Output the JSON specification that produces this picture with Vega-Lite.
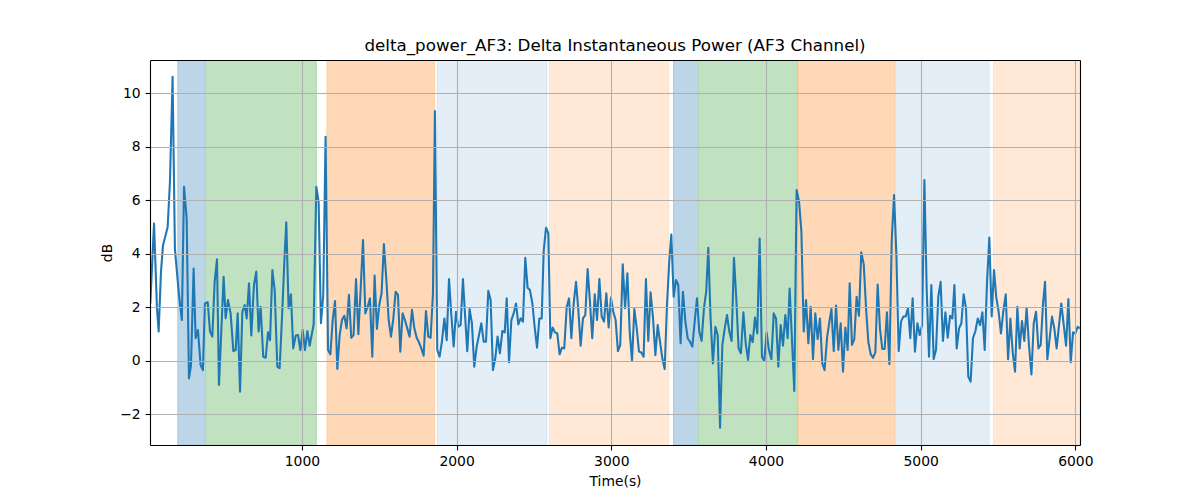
{
"$schema": "https://vega.github.io/schema/vega-lite/v6.json",
"width": 930,
"height": 385,
"autosize": {"type": "none"},
"padding": {"left": 150, "top": 60, "right": 120, "bottom": 55},
"title": {"text": "delta_power_AF3: Delta Instantaneous Power (AF3 Channel)", "font": "DejaVu Sans", "fontSize": 16.7, "fontWeight": "normal", "color": "#000000", "frame": "group", "anchor": "middle", "baseline": "alphabetic", "offset": 8.3, "dy": 16},
"datasets": {
"spans": [
{"start": 198, "end": 376, "phase": "A"},
{"start": 376, "end": 1093, "phase": "B"},
{"start": 1162, "end": 1858, "phase": "C"},
{"start": 1875, "end": 2584, "phase": "D"},
{"start": 2601, "end": 3371, "phase": "E"},
{"start": 3403, "end": 3565, "phase": "A"},
{"start": 3565, "end": 4203, "phase": "B"},
{"start": 4211, "end": 4832, "phase": "C"},
{"start": 4838, "end": 5442, "phase": "D"},
{"start": 5470, "end": 6030, "phase": "E"}
],
"signal": [
{"time":20,"power":2.15},{"time":44,"power":5.14},{"time":63,"power":1.97},{"time":74,"power":1.10},{"time":89,"power":3.33},{"time":102,"power":4.33},{"time":132,"power":5.00},{"time":147,"power":6.69},{"time":164,"power":10.62},{"time":179,"power":4.20},{"time":205,"power":2.47},{"time":224,"power":1.53},{"time":238,"power":6.51},{"time":255,"power":5.33},{"time":270,"power":-0.65},{"time":283,"power":-0.15},{"time":300,"power":3.46},{"time":313,"power":0.85},{"time":328,"power":1.16},{"time":345,"power":-0.15},{"time":360,"power":-0.34},{"time":373,"power":2.15},{"time":391,"power":2.20},{"time":406,"power":1.10},{"time":421,"power":0.91},{"time":436,"power":2.96},{"time":451,"power":3.80},{"time":464,"power":-0.90},{"time":494,"power":3.15},{"time":507,"power":1.60},{"time":522,"power":2.28},{"time":539,"power":1.78},{"time":557,"power":0.37},{"time":572,"power":0.41},{"time":585,"power":1.78},{"time":600,"power":-1.15},{"time":615,"power":1.84},{"time":630,"power":2.09},{"time":643,"power":1.59},{"time":658,"power":2.90},{"time":673,"power":0.95},{"time":690,"power":2.84},{"time":705,"power":3.34},{"time":720,"power":1.10},{"time":733,"power":2.03},{"time":750,"power":0.16},{"time":766,"power":0.12},{"time":781,"power":1.07},{"time":794,"power":0.78},{"time":809,"power":3.40},{"time":824,"power":2.65},{"time":841,"power":-0.21},{"time":856,"power":-0.27},{"time":873,"power":1.84},{"time":886,"power":3.65},{"time":899,"power":5.18},{"time":914,"power":1.97},{"time":929,"power":2.49},{"time":944,"power":0.47},{"time":960,"power":0.95},{"time":975,"power":0.97},{"time":990,"power":0.41},{"time":1005,"power":1.16},{"time":1020,"power":0.41},{"time":1035,"power":1.12},{"time":1050,"power":0.57},{"time":1063,"power":0.97},{"time":1076,"power":1.37},{"time":1093,"power":6.51},{"time":1108,"power":5.95},{"time":1123,"power":1.41},{"time":1138,"power":2.47},{"time":1153,"power":8.38},{"time":1169,"power":0.41},{"time":1184,"power":0.25},{"time":1199,"power":1.53},{"time":1214,"power":2.24},{"time":1229,"power":-0.30},{"time":1244,"power":0.97},{"time":1259,"power":1.53},{"time":1274,"power":1.69},{"time":1289,"power":1.22},{"time":1304,"power":2.47},{"time":1319,"power":0.87},{"time":1334,"power":0.97},{"time":1350,"power":3.06},{"time":1365,"power":1.00},{"time":1380,"power":2.71},{"time":1395,"power":4.52},{"time":1410,"power":1.78},{"time":1425,"power":2.03},{"time":1440,"power":2.34},{"time":1455,"power":0.16},{"time":1470,"power":3.19},{"time":1485,"power":1.20},{"time":1500,"power":2.09},{"time":1515,"power":2.53},{"time":1530,"power":4.37},{"time":1546,"power":3.03},{"time":1561,"power":1.53},{"time":1576,"power":0.91},{"time":1591,"power":1.59},{"time":1606,"power":2.59},{"time":1621,"power":2.47},{"time":1636,"power":0.35},{"time":1651,"power":1.78},{"time":1666,"power":1.53},{"time":1681,"power":1.22},{"time":1696,"power":0.91},{"time":1712,"power":1.91},{"time":1727,"power":1.22},{"time":1742,"power":0.87},{"time":1757,"power":0.70},{"time":1772,"power":0.47},{"time":1787,"power":0.20},{"time":1802,"power":1.87},{"time":1817,"power":0.91},{"time":1832,"power":0.87},{"time":1847,"power":2.49},{"time":1860,"power":9.34},{"time":1875,"power":0.41},{"time":1890,"power":0.16},{"time":1905,"power":0.72},{"time":1921,"power":1.59},{"time":1936,"power":0.78},{"time":1951,"power":3.06},{"time":1966,"power":1.72},{"time":1981,"power":0.54},{"time":1996,"power":1.84},{"time":2011,"power":1.28},{"time":2026,"power":1.34},{"time":2041,"power":3.06},{"time":2056,"power":1.59},{"time":2069,"power":0.37},{"time":2084,"power":1.94},{"time":2099,"power":1.41},{"time":2114,"power":-0.21},{"time":2130,"power":0.54},{"time":2145,"power":0.97},{"time":2160,"power":1.41},{"time":2175,"power":0.72},{"time":2190,"power":0.72},{"time":2205,"power":2.62},{"time":2220,"power":2.28},{"time":2235,"power":-0.34},{"time":2250,"power":0.10},{"time":2265,"power":0.91},{"time":2280,"power":0.29},{"time":2296,"power":1.12},{"time":2311,"power":1.07},{"time":2324,"power":2.34},{"time":2339,"power":-0.05},{"time":2354,"power":1.53},{"time":2369,"power":1.78},{"time":2384,"power":2.15},{"time":2399,"power":1.37},{"time":2414,"power":1.59},{"time":2429,"power":1.47},{"time":2444,"power":3.86},{"time":2459,"power":2.74},{"time":2474,"power":2.65},{"time":2490,"power":2.15},{"time":2505,"power":1.25},{"time":2520,"power":0.50},{"time":2535,"power":1.59},{"time":2550,"power":1.59},{"time":2563,"power":4.11},{"time":2578,"power":4.98},{"time":2593,"power":4.77},{"time":2606,"power":0.85},{"time":2621,"power":1.25},{"time":2636,"power":1.07},{"time":2651,"power":1.03},{"time":2666,"power":0.25},{"time":2681,"power":0.50},{"time":2696,"power":0.47},{"time":2712,"power":2.03},{"time":2727,"power":2.34},{"time":2742,"power":0.85},{"time":2757,"power":2.15},{"time":2772,"power":2.96},{"time":2787,"power":1.91},{"time":2802,"power":0.57},{"time":2817,"power":1.59},{"time":2832,"power":1.72},{"time":2847,"power":3.44},{"time":2862,"power":2.22},{"time":2877,"power":0.85},{"time":2893,"power":2.49},{"time":2908,"power":1.53},{"time":2923,"power":3.06},{"time":2938,"power":1.66},{"time":2953,"power":1.47},{"time":2968,"power":2.53},{"time":2983,"power":1.25},{"time":2998,"power":2.37},{"time":3013,"power":1.84},{"time":3028,"power":1.53},{"time":3043,"power":0.37},{"time":3058,"power":0.60},{"time":3074,"power":3.61},{"time":3089,"power":1.97},{"time":3104,"power":3.28},{"time":3119,"power":1.10},{"time":3134,"power":0.00},{"time":3149,"power":1.94},{"time":3164,"power":1.25},{"time":3179,"power":0.35},{"time":3194,"power":0.32},{"time":3209,"power":0.16},{"time":3224,"power":3.06},{"time":3239,"power":0.75},{"time":3254,"power":2.57},{"time":3270,"power":1.59},{"time":3285,"power":0.22},{"time":3300,"power":1.34},{"time":3315,"power":0.72},{"time":3330,"power":0.10},{"time":3345,"power":-0.30},{"time":3360,"power":2.09},{"time":3375,"power":3.74},{"time":3388,"power":4.73},{"time":3403,"power":2.40},{"time":3418,"power":3.03},{"time":3433,"power":2.84},{"time":3448,"power":0.66},{"time":3463,"power":2.59},{"time":3479,"power":1.47},{"time":3494,"power":0.85},{"time":3509,"power":0.72},{"time":3524,"power":0.54},{"time":3539,"power":1.47},{"time":3554,"power":2.34},{"time":3569,"power":1.10},{"time":3584,"power":0.75},{"time":3599,"power":1.97},{"time":3614,"power":2.62},{"time":3627,"power":4.23},{"time":3642,"power":1.59},{"time":3657,"power":-0.09},{"time":3673,"power":1.28},{"time":3688,"power":0.97},{"time":3703,"power":-2.49},{"time":3718,"power":0.60},{"time":3733,"power":1.20},{"time":3748,"power":1.72},{"time":3763,"power":1.10},{"time":3778,"power":0.75},{"time":3793,"power":3.86},{"time":3808,"power":2.34},{"time":3823,"power":0.47},{"time":3838,"power":0.29},{"time":3854,"power":1.82},{"time":3869,"power":0.66},{"time":3884,"power":0.04},{"time":3899,"power":0.97},{"time":3914,"power":0.70},{"time":3929,"power":1.62},{"time":3944,"power":1.03},{"time":3959,"power":4.58},{"time":3974,"power":0.16},{"time":3989,"power":0.00},{"time":4004,"power":1.07},{"time":4019,"power":0.41},{"time":4035,"power":0.07},{"time":4050,"power":1.78},{"time":4065,"power":1.59},{"time":4080,"power":-0.21},{"time":4095,"power":1.34},{"time":4110,"power":0.57},{"time":4125,"power":1.72},{"time":4140,"power":0.85},{"time":4153,"power":2.71},{"time":4168,"power":0.80},{"time":4183,"power":-1.12},{"time":4198,"power":6.39},{"time":4214,"power":5.95},{"time":4229,"power":4.83},{"time":4244,"power":1.10},{"time":4259,"power":2.28},{"time":4274,"power":0.66},{"time":4289,"power":2.03},{"time":4304,"power":0.07},{"time":4319,"power":1.78},{"time":4334,"power":0.82},{"time":4349,"power":1.59},{"time":4364,"power":-0.09},{"time":4379,"power":-0.34},{"time":4395,"power":0.87},{"time":4410,"power":1.47},{"time":4423,"power":1.94},{"time":4438,"power":0.37},{"time":4453,"power":2.07},{"time":4468,"power":0.41},{"time":4483,"power":1.41},{"time":4498,"power":-0.40},{"time":4513,"power":1.25},{"time":4528,"power":0.41},{"time":4541,"power":2.90},{"time":4556,"power":0.60},{"time":4571,"power":0.82},{"time":4586,"power":2.40},{"time":4601,"power":1.69},{"time":4616,"power":4.06},{"time":4632,"power":3.61},{"time":4647,"power":1.97},{"time":4662,"power":0.70},{"time":4677,"power":0.25},{"time":4692,"power":0.12},{"time":4707,"power":0.32},{"time":4722,"power":2.86},{"time":4737,"power":1.20},{"time":4752,"power":0.45},{"time":4767,"power":0.45},{"time":4782,"power":1.82},{"time":4798,"power":-0.12},{"time":4813,"power":4.52},{"time":4828,"power":6.20},{"time":4843,"power":3.96},{"time":4858,"power":0.37},{"time":4873,"power":1.47},{"time":4888,"power":1.66},{"time":4903,"power":1.66},{"time":4918,"power":1.97},{"time":4933,"power":0.85},{"time":4948,"power":2.34},{"time":4963,"power":0.35},{"time":4979,"power":1.41},{"time":4994,"power":0.97},{"time":5009,"power":1.34},{"time":5024,"power":6.76},{"time":5039,"power":2.65},{"time":5054,"power":0.16},{"time":5069,"power":2.84},{"time":5084,"power":0.07},{"time":5099,"power":0.41},{"time":5114,"power":2.40},{"time":5129,"power":2.96},{"time":5144,"power":0.75},{"time":5160,"power":1.82},{"time":5175,"power":0.87},{"time":5190,"power":1.69},{"time":5205,"power":1.59},{"time":5218,"power":2.84},{"time":5233,"power":0.47},{"time":5248,"power":1.22},{"time":5263,"power":1.41},{"time":5278,"power":2.49},{"time":5293,"power":1.97},{"time":5308,"power":-0.59},{"time":5323,"power":-0.77},{"time":5338,"power":0.85},{"time":5354,"power":1.12},{"time":5369,"power":1.59},{"time":5384,"power":1.34},{"time":5399,"power":1.82},{"time":5414,"power":0.41},{"time":5429,"power":2.96},{"time":5444,"power":4.61},{"time":5459,"power":1.66},{"time":5474,"power":3.40},{"time":5489,"power":2.37},{"time":5504,"power":1.84},{"time":5519,"power":1.03},{"time":5534,"power":1.84},{"time":5550,"power":2.49},{"time":5565,"power":0.07},{"time":5580,"power":1.59},{"time":5595,"power":0.32},{"time":5610,"power":-0.40},{"time":5625,"power":2.03},{"time":5640,"power":0.47},{"time":5655,"power":1.49},{"time":5670,"power":0.75},{"time":5685,"power":1.99},{"time":5700,"power":0.60},{"time":5716,"power":-0.50},{"time":5731,"power":1.41},{"time":5746,"power":1.84},{"time":5761,"power":0.47},{"time":5776,"power":0.60},{"time":5791,"power":2.15},{"time":5804,"power":2.96},{"time":5819,"power":0.07},{"time":5834,"power":0.85},{"time":5849,"power":1.66},{"time":5864,"power":1.22},{"time":5879,"power":0.47},{"time":5894,"power":1.32},{"time":5909,"power":2.15},{"time":5925,"power":1.34},{"time":5940,"power":0.57},{"time":5955,"power":2.32},{"time":5970,"power":-0.05},{"time":5985,"power":1.07},{"time":6000,"power":1.03},{"time":6015,"power":1.28},{"time":6028,"power":1.22}
]
},
"resolve": {"axis": {"x": "independent", "y": "independent"}},
"layer": [
{
"data": {"name": "spans"},
"mark": {"type": "rect", "clip": true, "strokeWidth": 1},
"encoding": {
"x": {"field": "start", "type": "quantitative", "scale": {"domain": [18, 6030], "nice": false, "zero": false}, "axis": {"orient": "bottom", "title": "Time(s)", "values": [1000, 2000, 3000, 4000, 5000, 6000], "format": "d", "labelFlush": false, "grid": true, "gridColor": "#b0b0b0", "gridWidth": 1.1, "gridOpacity": 1, "zindex": 1}},
"x2": {"field": "end"},
"y": {"datum": -3.14, "type": "quantitative", "scale": {"domain": [-3.14, 11.25], "nice": false, "zero": false}, "axis": {"orient": "left", "title": "dB", "values": [-2, 0, 2, 4, 6, 8, 10], "format": "d", "labelFlush": false, "grid": true, "gridColor": "#b0b0b0", "gridWidth": 1.1, "gridOpacity": 1, "zindex": 1}},
"y2": {"datum": 11.25},
"color": {"field": "phase", "type": "nominal", "scale": {"domain": ["A", "B", "C", "D", "E"], "range": ["#bcd6e8", "#c0e2c0", "#ffd9b7", "#e4eef7", "#ffe9d6"]}, "legend": null},
"stroke": {"field": "phase", "type": "nominal", "scale": {"domain": ["A", "B", "C", "D", "E"], "range": ["#a5c8e1", "#abd9ab", "#ffcc9f", "#d6e5f2", "#fde0c6"]}, "legend": null}
}
},
{
"data": {"name": "signal"},
"mark": {"type": "line", "color": "#1f77b4", "strokeWidth": 2.08, "strokeJoin": "round", "clip": true},
"encoding": {
"x": {"field": "time", "type": "quantitative", "scale": {"domain": [18, 6030], "nice": false, "zero": false}, "axis": {"orient": "top", "title": null, "labels": false, "ticks": false, "grid": false, "domain": true, "zindex": 1}},
"y": {"field": "power", "type": "quantitative", "scale": {"domain": [-3.14, 11.25], "nice": false, "zero": false}, "axis": {"orient": "right", "title": null, "labels": false, "ticks": false, "grid": false, "domain": true, "zindex": 1}}
}
}
],
"config": {
"view": {"stroke": null},
"axis": {"domainColor": "#000000", "domainWidth": 1.1, "tickColor": "#000000", "tickWidth": 1.1, "tickSize": 4.9, "labelFont": "DejaVu Sans", "labelFontSize": 13.9, "labelColor": "#000000", "labelPadding": 4.9, "titleFont": "DejaVu Sans", "titleFontSize": 13.9, "titleFontWeight": "normal", "titleColor": "#000000"},
"axisX": {"titlePadding": 6},
"axisY": {"titlePadding": 5}
}
}
